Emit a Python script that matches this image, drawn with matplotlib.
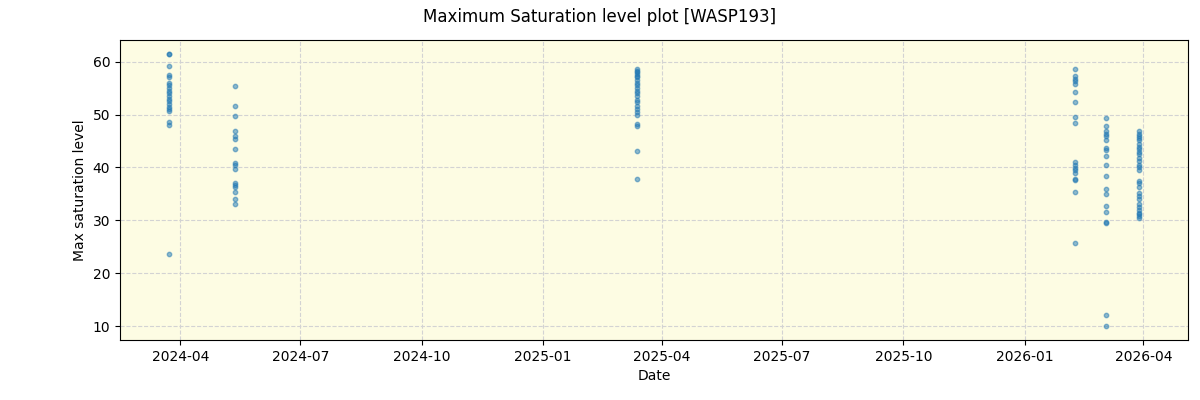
import matplotlib
matplotlib.use("Agg")
import matplotlib.pyplot as plt
import matplotlib.dates as mdates
import pandas as pd

# observation nights and the max saturation levels read for each
night_dates = ["2024-03-23", "2024-05-12", "2025-03-13",
               "2026-02-08", "2026-03-04", "2026-03-29"]

sat_2024_03 = [61.5, 61.4, 59.2, 57.5, 57.0, 56.0, 55.5, 55.0, 54.5, 54.0,
               53.5, 53.0, 52.5, 52.0, 51.5, 51.0, 50.6, 48.5, 48.1, 23.6]
sat_2024_05 = [55.4, 51.7, 49.7, 46.9, 46.0, 45.4, 43.5, 40.8, 40.4, 39.7,
               37.1, 36.7, 36.3, 35.3, 34.0, 33.2]
sat_2025_03 = [58.6, 58.3, 58.0, 57.7, 57.3, 57.0, 56.5, 56.0, 55.5, 55.0,
               54.5, 54.0, 53.5, 52.8, 52.3, 51.7, 51.0, 50.5, 50.0, 48.3,
               47.9, 43.2, 37.8]
sat_2026_02 = [58.6, 57.2, 56.8, 56.3, 55.8, 54.2, 52.4, 49.6, 48.4, 41.0,
               40.5, 39.9, 39.5, 38.9, 37.8, 37.6, 35.3, 25.7]
sat_2026_03a = [49.3, 47.9, 46.8, 46.3, 45.9, 45.2, 43.7, 43.3, 42.1, 40.4,
                38.4, 35.9, 35.0, 32.7, 31.6, 29.8, 29.6, 12.2, 10.0]
sat_2026_03b = [46.8, 46.4, 46.0, 45.6, 45.2, 44.5, 43.8, 43.4, 43.0, 42.5,
                41.8, 41.2, 40.5, 40.0, 39.6, 37.5, 37.0, 36.3, 35.2, 34.6,
                34.0, 33.2, 32.5, 32.0, 31.5, 31.2, 30.8, 30.5]

groups = [sat_2024_03, sat_2024_05, sat_2025_03,
          sat_2026_02, sat_2026_03a, sat_2026_03b]

dates = []
values = []
for d, vals in zip(night_dates, groups):
    dates += [pd.Timestamp(d)] * len(vals)
    values += vals

fig, ax = plt.subplots(figsize=(12, 4), dpi=100)
ax.set_facecolor("#fdfce3")
ax.scatter(dates, values, s=10, color="tab:blue", alpha=0.5, zorder=3)

ax.grid(True, color="lightgray", linestyle="--", linewidth=0.8)
ax.set_axisbelow(True)
ax.xaxis.set_major_locator(mdates.MonthLocator(bymonth=[1, 4, 7, 10]))
ax.xaxis.set_major_formatter(mdates.DateFormatter("%Y-%m"))
ax.set_xlabel("Date")
ax.set_ylabel("Max saturation level")
fig.suptitle("Maximum Saturation level plot [WASP193]", fontsize=12)

plt.subplots_adjust(left=0.1, right=0.99, top=0.9, bottom=0.15)
plt.savefig("out.png", dpi=100)
